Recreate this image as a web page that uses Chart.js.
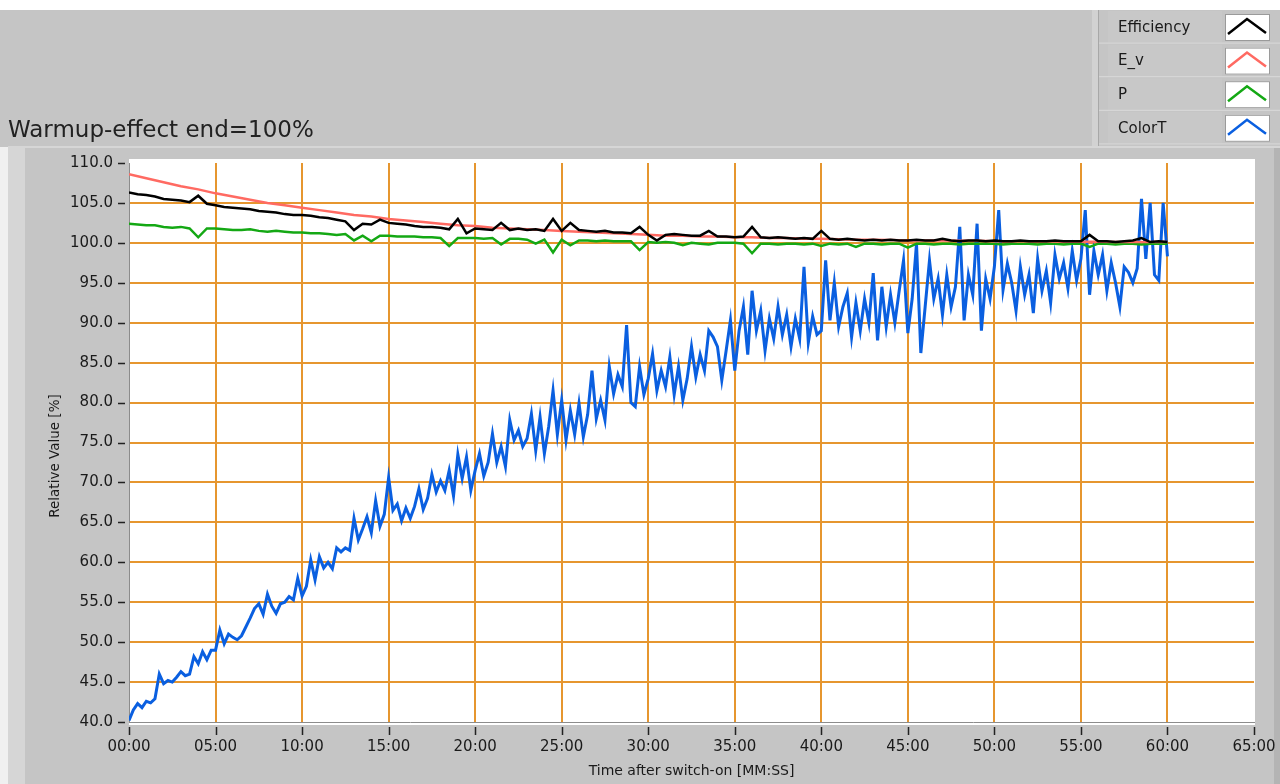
<!DOCTYPE html>
<html>
<head>
<meta charset="utf-8">
<script src="https://cdn.jsdelivr.net/npm/chart.js@4.4.1/dist/chart.umd.min.js"></script>
<style>
html, body { margin: 0; padding: 0; background: #c5c5c5; }
canvas { display: block; }
</style>
</head>
<body>
<canvas id="myChart" width="1280" height="784"></canvas>
<script>
// chart texts
const chartTitle = 'Warmup-effect end=100%';
const xTitle = 'Time after switch-on [MM:SS]';
const yTitle = 'Relative Value [%]';
const seriesNames = ['Efficiency', 'E_v', 'P', 'ColorT'];

// time axis in minutes (labels are MM:SS)
const xMin = 0, xMax = 65, xStep = 5;
const yMin = 40, yMax = 110, yStep = 5;

// sample spacing of each series, minutes
const effStep = 0.5;
const evStep = 1;
const pStep = 0.5;
const colorTStep = 0.25;

// Efficiency, every 0.5 min (one row = 5 min)
const efficiency = [
  106.3, 106.1, 106.0, 105.8, 105.5, 105.4, 105.3, 105.1, 105.9, 104.9,
  104.7, 104.5, 104.4, 104.3, 104.2, 104.0, 103.9, 103.8, 103.6, 103.5,
  103.5, 103.4, 103.2, 103.1, 102.9, 102.7, 101.6, 102.4, 102.3, 102.9,
  102.5, 102.4, 102.3, 102.1, 102.0, 102.0, 101.9, 101.7, 103.0, 101.2,
  101.8, 101.7, 101.6, 102.5, 101.6, 101.8, 101.6, 101.7, 101.5, 103.0,
  101.5, 102.5, 101.6, 101.5, 101.4, 101.5, 101.3, 101.3, 101.2, 102.0,
  101.0, 100.3, 101.0, 101.1, 101.0, 100.9, 100.9, 101.5, 100.8, 100.8,
  100.7, 100.8, 102.0, 100.7, 100.6, 100.7, 100.6, 100.5, 100.6, 100.5,
  101.5, 100.5, 100.4, 100.5, 100.4, 100.3, 100.4, 100.3, 100.4, 100.3,
  100.3, 100.4, 100.3, 100.3, 100.5, 100.3, 100.2, 100.3, 100.3, 100.2,
  100.3, 100.2, 100.2, 100.3, 100.2, 100.2, 100.2, 100.3, 100.2, 100.2,
  100.2, 101.0, 100.2, 100.2, 100.1, 100.2, 100.3, 100.6, 100.1, 100.2,
  100.1
];

// E_v, every minute (one row = 10 min)
const eV = [
  108.6, 108.1, 107.6, 107.1, 106.7, 106.2, 105.8, 105.4, 105.0, 104.7,
  104.4, 104.1, 103.8, 103.5, 103.3, 103.0, 102.8, 102.6, 102.4, 102.2,
  102.1, 101.9, 101.8, 101.7, 101.6, 101.5, 101.4, 101.3, 101.2, 101.1,
  101.0, 100.9, 100.9, 100.8, 100.8, 100.7, 100.7, 100.6, 100.6, 100.5,
  100.5, 100.45, 100.4, 100.4, 100.35, 100.3, 100.3, 100.3, 100.25, 100.25,
  100.2, 100.2, 100.2, 100.2, 100.15, 100.15, 100.15, 100.1, 100.1, 100.1,
  100.1
];

// P, every 0.5 min (one row = 5 min)
const p = [
  102.4, 102.3, 102.2, 102.2, 102.0, 101.9, 102.0, 101.8, 100.7, 101.8,
  101.8, 101.7, 101.6, 101.6, 101.7, 101.5, 101.4, 101.5, 101.4, 101.3,
  101.3, 101.2, 101.2, 101.1, 101.0, 101.1, 100.3, 100.9, 100.2, 100.9,
  100.9, 100.8, 100.8, 100.8, 100.7, 100.7, 100.6, 99.6, 100.6, 100.6,
  100.6, 100.5, 100.6, 99.8, 100.5, 100.5, 100.4, 99.9, 100.4, 98.8,
  100.4, 99.7, 100.3, 100.3, 100.2, 100.3, 100.2, 100.2, 100.2, 99.1,
  100.1, 100.0, 100.1, 100.0, 99.7, 100.0, 99.9, 99.8, 100.0, 100.0,
  100.0, 99.9, 98.7, 99.9, 99.9, 99.8, 99.9, 99.9, 99.8, 99.9,
  99.6, 99.9, 99.8, 99.9, 99.5, 99.9, 99.9, 99.8, 99.9, 99.9,
  99.4, 99.9, 99.9, 99.8, 99.9, 99.9, 99.8, 99.9, 99.9, 99.9,
  99.9, 99.8, 99.9, 99.9, 99.9, 99.8, 99.9, 99.9, 99.8, 99.9,
  99.9, 99.5, 99.9, 99.9, 99.8, 99.9, 99.9, 99.8, 99.9, 99.9,
  99.9
];

// ColorT, every 0.25 min (one row = 1 min)
const colorT = [
  40.2, 41.5, 42.3, 41.8,
  42.6, 42.4, 42.9, 46.0,
  44.8, 45.2, 45.0, 45.6,
  46.3, 45.8, 46.0, 48.2,
  47.3, 48.8, 47.8, 49.0,
  49.0, 51.5, 49.8, 51.0,
  50.6, 50.3, 50.8, 51.9,
  53.0, 54.2, 54.8, 53.5,
  56.0, 54.5, 53.6, 54.8,
  55.0, 55.7, 55.3, 58.0,
  55.8, 57.0, 60.3, 57.8,
  60.7, 59.3, 60.0, 59.2,
  61.8, 61.3, 61.8, 61.5,
  65.5, 62.8, 64.2, 65.7,
  63.7, 67.7, 64.5, 66.0,
  70.6, 66.5, 67.3, 65.2,
  66.8, 65.5, 67.0, 69.2,
  66.6, 68.0, 71.0, 68.8,
  70.2, 69.0, 71.5, 68.3,
  73.5, 70.5, 73.2, 69.0,
  71.5, 73.6, 70.8, 72.5,
  76.1, 72.5, 74.5, 72.0,
  77.8, 75.3, 76.5, 74.5,
  75.5, 78.6, 74.0, 78.2,
  73.6, 77.0, 81.5, 76.0,
  80.3, 75.3, 79.0, 76.0,
  79.9, 75.7, 78.5, 84.0,
  78.0, 80.3, 77.8, 84.5,
  81.1, 83.5, 82.0, 89.7,
  80.0, 79.5, 84.5, 81.0,
  83.0, 86.1, 81.5, 84.0,
  82.0, 85.7, 81.0, 84.5,
  80.3, 83.0, 87.0, 83.2,
  86.0, 84.0, 89.0, 88.2,
  87.0, 82.8, 86.5, 90.3,
  84.0, 89.0, 92.0, 86.0,
  94.0, 89.0, 91.5, 86.5,
  90.5, 88.0, 92.0, 88.5,
  91.0, 87.0, 90.5, 88.0,
  97.0, 87.5, 90.8, 88.5,
  89.0, 97.8, 90.3, 95.0,
  89.5, 92.0, 93.7, 88.2,
  92.5, 89.0, 93.0, 90.0,
  96.2, 87.8, 94.5, 89.5,
  93.5, 90.0, 94.0, 97.8,
  88.7, 93.0, 99.9, 86.2,
  92.0, 97.8, 93.0, 95.5,
  91.0, 96.0, 92.0, 94.5,
  102.0, 90.3, 96.0, 93.5,
  102.4, 89.0, 95.5, 93.0,
  97.0, 104.1, 94.1, 97.4,
  95.0, 91.5, 97.0, 93.5,
  96.0, 91.2, 98.0, 94.0,
  96.5, 92.5, 98.5, 95.5,
  97.5, 94.3, 99.0, 95.3,
  98.0, 104.1, 93.5, 99.0,
  96.0, 98.5, 94.0, 97.5,
  95.0, 92.0, 97.0, 96.3,
  95.0, 96.8, 105.5, 98.0,
  105.0, 96.0, 95.3, 105.0,
  98.3
];

const seriesColors = ['#000000', '#ff6a62', '#14a814', '#0a5fe0'];
const orange = '#e6962f';
const panelGrey = '#c5c5c5';

function toPoints(values, step) {
  return values.map((v, i) => ({ x: i * step, y: v }));
}

function mmss(v) {
  return String(v).padStart(2, '0') + ':00';
}

Chart.defaults.font.family = 'DejaVu Sans';
Chart.defaults.color = '#1a1a1a';

// LabVIEW-like panel: grey background, framed white plot area, title, legend, tick marks
const panel = {
  id: 'panel',
  beforeDraw(chart) {
    const c = chart.ctx, a = chart.chartArea;
    c.save();
    c.fillStyle = panelGrey;
    c.fillRect(0, 0, chart.width, chart.height);
    c.fillStyle = '#ffffff';
    c.fillRect(0, 0, chart.width, 10);
    c.fillStyle = '#f0f0f0';
    c.fillRect(0, 147, 8, chart.height - 147);
    c.fillStyle = '#d6d6d6';
    c.fillRect(8, 147, 17, chart.height - 147);
    c.fillRect(8, 146, chart.width - 8, 2);
    c.fillStyle = '#b4b4b4';
    c.fillRect(1274, 148, 6, chart.height - 148);
    c.fillStyle = '#ffffff';
    c.fillRect(a.left, a.top - 4, a.right - a.left + 1, a.bottom - a.top + 7);
    c.restore();
  },
  afterDraw(chart) {
    const c = chart.ctx, a = chart.chartArea;
    const xs = chart.scales.x, ys = chart.scales.y;
    c.save();

    // tick marks, set off a little from the plot edge
    c.strokeStyle = '#222222';
    c.lineWidth = 1.5;
    c.beginPath();
    xs.ticks.forEach(t => {
      const px = Math.round(xs.getPixelForValue(t.value)) + 0.5;
      c.moveTo(px, a.bottom + 5);
      c.lineTo(px, a.bottom + 13);
    });
    ys.ticks.forEach(t => {
      const py = Math.round(ys.getPixelForValue(t.value)) + 0.5;
      c.moveTo(a.left - 11, py);
      c.lineTo(a.left - 4, py);
    });
    c.stroke();

    // y axis title
    c.fillStyle = '#1a1a1a';
    c.font = '13.5px "DejaVu Sans"';
    c.textAlign = 'center';
    c.textBaseline = 'middle';
    c.translate(55, 456);
    c.rotate(-Math.PI / 2);
    c.fillText(yTitle, 0, 0);
    c.setTransform(1, 0, 0, 1, 0, 0);
    c.textAlign = 'left';

    c.fillStyle = '#222222';
    c.font = '23px "DejaVu Sans"';
    c.textBaseline = 'alphabetic';
    c.fillText(chartTitle, 8, 137);

    // legend
    c.fillStyle = '#d2d2d2';
    c.fillRect(1092, 10, 6, 136);
    c.fillStyle = '#a8a8a8';
    c.fillRect(1098, 10, 1, 136);
    const rowH = 33.6;
    chart.data.datasets.forEach((ds, i) => {
      const top = 11 + i * rowH;
      c.fillStyle = '#c8c8c8';
      c.fillRect(1108, top, 114, rowH - 2);
      c.fillStyle = '#dadada';
      c.fillRect(1099, top + rowH - 2, 181, 1);
      c.fillStyle = '#1a1a1a';
      c.font = '15px "DejaVu Sans"';
      c.textBaseline = 'middle';
      c.fillText(ds.label, 1118, top + 17);
      const bx = 1225, by = top + 3;
      c.fillStyle = '#ffffff';
      c.fillRect(bx, by, 45, 27);
      c.strokeStyle = '#9a9a9a';
      c.lineWidth = 1;
      c.strokeRect(bx + 0.5, by + 0.5, 44, 26);
      c.strokeStyle = ds.borderColor;
      c.lineWidth = 2.5;
      c.beginPath();
      c.moveTo(bx + 3, by + 20);
      c.lineTo(bx + 22, by + 5);
      c.lineTo(bx + 41, by + 19);
      c.stroke();
    });
    c.restore();
  }
};

function edgeGrid(lo, hi) {
  return ctx => (ctx.tick && (ctx.tick.value === lo || ctx.tick.value === hi)) ? 'rgba(0,0,0,0)' : orange;
}

const ctx = document.getElementById('myChart').getContext('2d');
const chart = new Chart(ctx, {
  type: 'line',
  data: {
    datasets: [
      { label: seriesNames[0], data: toPoints(efficiency, effStep), borderColor: seriesColors[0], borderWidth: 2.5 },
      { label: seriesNames[1], data: toPoints(eV, evStep), borderColor: seriesColors[1], borderWidth: 2.5 },
      { label: seriesNames[2], data: toPoints(p, pStep), borderColor: seriesColors[2], borderWidth: 2.5 },
      { label: seriesNames[3], data: toPoints(colorT, colorTStep), borderColor: seriesColors[3], borderWidth: 3 }
    ]
  },
  options: {
    responsive: false,
    animation: false,
    devicePixelRatio: 1,
    elements: { point: { radius: 0 }, line: { tension: 0, borderJoinStyle: 'miter' } },
    layout: { padding: { top: 163, right: 26, left: 0, bottom: 0 } },
    plugins: { legend: { display: false }, tooltip: { enabled: false } },
    scales: {
      x: {
        type: 'linear',
        min: xMin, max: xMax,
        afterFit: s => { s.height = 62; },
        border: { display: true, color: '#8c8c8c', width: 1 },
        grid: { color: edgeGrid(xMin, xMax), lineWidth: 2, tickColor: 'rgba(0,0,0,0)', tickLength: 13 },
        ticks: {
          stepSize: xStep, padding: 3, maxRotation: 0, autoSkip: false,
          font: { size: 15 }, color: '#1a1a1a',
          callback: v => mmss(v)
        },
        title: { display: true, text: xTitle, font: { size: 14 }, color: '#1a1a1a', padding: { top: 0, bottom: 4 } }
      },
      y: {
        min: yMin, max: yMax,
        afterFit: s => { s.width = 129; },
        border: { display: true, color: '#8c8c8c', width: 1 },
        grid: { color: edgeGrid(yMin, yMax), lineWidth: 2, tickColor: 'rgba(0,0,0,0)', tickLength: 11 },
        ticks: {
          stepSize: yStep, padding: 5, autoSkip: false,
          font: { size: 15 }, color: '#1a1a1a',
          callback: v => v.toFixed(1)
        },
        title: { display: false, text: yTitle }
      }
    }
  },
  plugins: [panel]
});
</script>
</body>
</html>
